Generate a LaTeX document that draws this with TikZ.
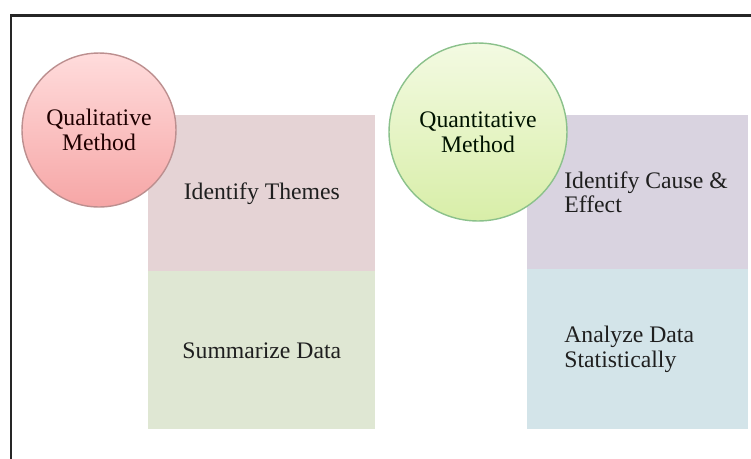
\documentclass[tikz,border=0pt]{standalone}
\usepackage{fontspec}
\setmainfont{Liberation Serif}
\newfontfamily\timesfont{Liberation Serif}
\usetikzlibrary{positioning}

\definecolor{pinkbox}{HTML}{E5D3D5}
\definecolor{greenbox}{HTML}{DFE7D3}
\definecolor{lilacbox}{HTML}{D9D3E0}
\definecolor{bluebox}{HTML}{D3E4E9}
\definecolor{redtop}{HTML}{FFDCDC}
\definecolor{redbot}{HTML}{F6A6A6}
\definecolor{limetop}{HTML}{F3FAE2}
\definecolor{limebot}{HTML}{D8EEA8}

\begin{document}
\begin{tikzpicture}[x=0.02cm,y=-0.02cm,
  every node/.style={font=\timesfont\fontsize{13.5}{14}\selectfont},
  box/.style={inner sep=0pt,text=black!88},
  lbl/.style={inner sep=0pt,anchor=west,align=left,text=black!88},
  method/.style={circle,inner sep=0pt,align=center,line width=0.8pt}]

\useasboundingbox (0,0) rectangle (751,458);

% frame
\draw[line width=1.7pt,black!85] (11,480) -- (11,15) -- (770,15);

% qualitative side
\node[box,fill=pinkbox,minimum width=4.54cm,minimum height=3.12cm,anchor=north west] (themes) at (148,115) {Identify Themes};
\node[box,fill=greenbox,minimum width=4.54cm,minimum height=3.16cm,below=-0.4pt of themes] (summ) {Summarize Data};

% quantitative side
\node[box,fill=lilacbox,minimum width=4.42cm,minimum height=3.08cm,anchor=north west] (cause) at (527,115) {};
\node[box,fill=bluebox,minimum width=4.42cm,minimum height=3.2cm,below=-0.4pt of cause] (stat) {};
\node[lbl] (causetxt) at ([xshift=0.74cm]cause.west) {Identify Cause \&\\Effect};
\node[lbl] (stattxt) at ([xshift=0.74cm]stat.west) {Analyze Data\\Statistically};

% circles
\node[method,minimum size=3.08cm,top color=redtop,bottom color=redbot,draw=red!25!gray!70,text=black!80!red!60!black] (qual) at (99,130) {Qualitative\\Method};
\node[method,minimum size=3.56cm,top color=limetop,bottom color=limebot,draw=green!30!gray!70,text=black!85!green!50!black] (quant) at (478,132) {Quantitative\\Method};

\end{tikzpicture}
\end{document}
